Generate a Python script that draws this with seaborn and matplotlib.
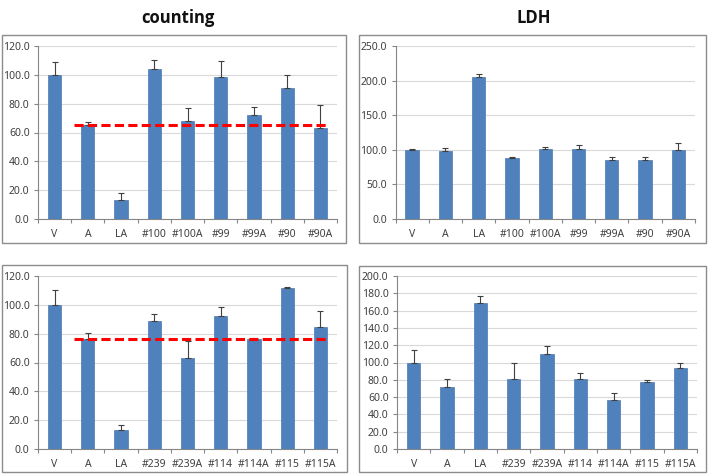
import matplotlib
matplotlib.use("Agg")
import matplotlib.pyplot as plt
import seaborn as sns
import pandas as pd
import numpy as np
from matplotlib.patches import Rectangle

sns.set_theme(style="white")
plt.rcParams['font.family'] = ['Noto Sans', 'DejaVu Sans']

cats_top = ["V", "A", "LA", "#100", "#100A", "#99", "#99A", "#90", "#90A"]
cats_bot = ["V", "A", "LA", "#239", "#239A", "#114", "#114A", "#115", "#115A"]

count_top = [100.0, 65.1, 12.9, 104.3, 68.1, 98.3, 72.0, 90.9, 63.2]
count_top_err = [9.0, 2.0, 5.0, 6.0, 9.0, 11.0, 6.0, 9.0, 16.0]
count_top_ref = 65.5

ldh_top = [100.0, 98.6, 205.3, 88.5, 101.0, 101.4, 85.1, 85.6, 100.0]
ldh_top_err = [1.0, 3.5, 4.7, 1.0, 3.0, 5.0, 4.0, 4.0, 10.0]

count_bot = [100.0, 76.2, 13.2, 88.6, 63.2, 92.1, 76.2, 111.9, 84.5]
count_bot_err = [10.0, 4.6, 3.7, 5.0, 12.0, 6.5, 0.5, 0.5, 11.0]
count_bot_ref = 76.4

ldh_bot = [100.0, 71.5, 168.5, 81.2, 109.6, 80.4, 56.2, 77.3, 93.1]
ldh_bot_err = [14.0, 10.0, 8.5, 18.0, 9.0, 7.7, 8.0, 2.0, 6.0]

titles = ["counting", "LDH"]

W, H = 708, 474
fig = plt.figure(figsize=(W / 100, H / 100), dpi=100)

def fx(px):
    return px / W

def fy(py):
    return 1 - py / H

# panel boxes (pixel coords: left, top, right, bottom)
boxes = [(2, 35, 346, 243), (359, 35, 706, 243), (2, 265, 347, 472), (359, 266, 706, 472)]
for l, t, r, b in boxes:
    fig.patches.append(Rectangle((fx(l), fy(b)), fx(r - l), (b - t) / H,
                                 transform=fig.transFigure, fill=False,
                                 edgecolor="#8C8C8C", linewidth=1.0))

# axes rects (pixel): left, top, right, bottom
rects = [(38, 46, 337, 219), (395.5, 46, 695, 219), (38, 276, 337, 449), (397, 276, 697, 449)]
panels = [
    (cats_top, count_top, count_top_err, 120, 20, count_top_ref),
    (cats_top, ldh_top, ldh_top_err, 250, 50, None),
    (cats_bot, count_bot, count_bot_err, 120, 20, count_bot_ref),
    (cats_bot, ldh_bot, ldh_bot_err, 200, 20, None),
]

bar_color = "#4F81BD"
for (l, t, r, b), (cats, vals, errs, ymax, step, ref) in zip(rects, panels):
    ax = fig.add_axes([fx(l), fy(b), fx(r - l), (b - t) / H])
    df = pd.DataFrame({"cat": cats, "val": vals})
    sns.barplot(data=df, x="cat", y="val", ax=ax, color=bar_color, width=0.4,
                saturation=1, errorbar=None, zorder=3, edgecolor="#4A7AB3", linewidth=0.5)
    x = np.arange(len(cats))
    ax.errorbar(x, vals, yerr=[np.zeros(len(errs)), errs], fmt="none",
                ecolor="#404040", elinewidth=0.8, capsize=2, capthick=0.8, zorder=4)
    if ref is not None:
        ax.plot([0.57, 8.2], [ref, ref], color="#FF0000", linewidth=2.2,
                dashes=(3.0, 1.4), zorder=5)
    ax.set_xlim(-0.5, len(cats) - 0.5)
    ax.set_ylim(0, ymax)
    ax.set_yticks(np.arange(0, ymax + 0.01, step))
    ax.set_yticklabels([f"{v:.1f}" for v in np.arange(0, ymax + 0.01, step)])
    ax.set_xlabel("")
    ax.set_ylabel("")
    ax.grid(axis="y", color="#D9D9D9", linewidth=0.8, zorder=0)
    ax.set_axisbelow(True)
    for s in ["top", "right"]:
        ax.spines[s].set_visible(False)
    for s in ["left", "bottom"]:
        ax.spines[s].set_color("#868686")
        ax.spines[s].set_linewidth(0.8)
    ax.tick_params(axis="y", length=3, width=0.8, color="#868686", labelsize=7.5,
                   labelcolor="#404040", pad=3, left=True)
    ax.tick_params(axis="x", length=0, labelsize=7.5, labelcolor="#404040", pad=7)
    # category-boundary tick marks (Excel style)
    ax.set_xticks(np.arange(-0.5, len(cats) - 0.49, 1.0), minor=True)
    ax.tick_params(axis="x", which="minor", length=3, width=0.8, color="#868686", bottom=True)

for xx, t in zip([178, 534], titles):
    fig.text(fx(xx), fy(18), t, ha="center", va="center", fontsize=12,
             fontweight="bold", family=["Open Sans", "DejaVu Sans"], color="#111111")

fig.savefig("out.png", dpi=100)
